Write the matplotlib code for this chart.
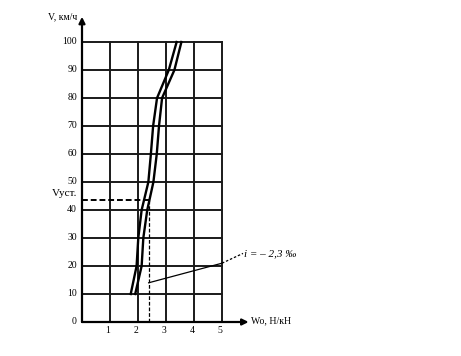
import numpy as np
import matplotlib
matplotlib.use("Agg")
import matplotlib.pyplot as plt

plt.rcParams['font.family'] = ['Liberation Serif', 'DejaVu Serif']

# speed, km/h
v = [10, 20, 30, 40, 50, 60, 70, 80, 90, 100]
# main resistance, N/kN (two curves)
w_left = [1.74, 1.95, 2.01, 2.13, 2.37, 2.46, 2.54, 2.68, 3.1, 3.38]
w_right = [1.9, 2.13, 2.19, 2.33, 2.55, 2.67, 2.75, 2.86, 3.3, 3.55]

x_ticks = [1, 2, 3, 4, 5]
y_ticks = [0, 10, 20, 30, 40, 50, 60, 70, 80, 90, 100]

v_ust = 43.5
w_ust = 2.38
slope_label = "i = – 2,3 ‰"

fig = plt.figure(figsize=(4.61, 3.56), dpi=100)
ax = fig.add_axes([82 / 461, 34 / 356, 140 / 461, 280 / 356])
ax.set_xlim(0, 5)
ax.set_ylim(0, 100)
ax.axis("off")

# grid
for xt in x_ticks:
    ax.plot([xt, xt], [0, 100], color="#1a1a1a", lw=1.4, clip_on=False)
for yt in y_ticks[1:]:
    ax.plot([0, 5], [yt, yt], color="#1a1a1a", lw=1.4, clip_on=False)

# axes with arrows
ax.annotate("", xy=(0, 109), xytext=(0, 0),
            arrowprops=dict(arrowstyle="-|>", color="black", lw=1.6,
                            mutation_scale=9, shrinkA=0, shrinkB=0),
            annotation_clip=False)
ax.annotate("", xy=(5.95, 0), xytext=(0, 0),
            arrowprops=dict(arrowstyle="-|>", color="black", lw=1.6,
                            mutation_scale=9, shrinkA=0, shrinkB=0),
            annotation_clip=False)

# tick labels
for yt in y_ticks:
    ax.text(-0.18, yt, str(yt), ha="right", va="center", fontsize=7)
for xt in x_ticks:
    ax.text(xt - 0.07, -1.5, str(xt), ha="center", va="top", fontsize=7)
ax.text(-0.18, 109, "V, км/ч", ha="right", va="center", fontsize=7)
ax.text(6.05, 0.5, "Wo, Н/кН", ha="left", va="center", fontsize=7)

# curves
ax.plot(w_left, v, color="black", lw=1.7, clip_on=False)
ax.plot(w_right, v, color="black", lw=1.7, clip_on=False)

# steady speed lines
ax.plot([0, w_ust], [v_ust, v_ust], color="black", lw=1.4, ls=(0, (3, 1.5)))
ax.plot([w_ust, w_ust], [0, v_ust], color="black", lw=0.9, ls=(0, (3, 1.5)))
ax.text(-0.18, 46, "Vуст.", ha="right", va="center", fontsize=8)

# slope annotation
ax.plot([w_ust, 5.0], [14, 21], color="black", lw=0.9, clip_on=False)
ax.plot([5.0, 5.75], [21, 24.5], color="black", lw=0.9, ls=(0, (2, 1.5)),
        clip_on=False)
ax.text(5.8, 24.5, slope_label, ha="left", va="center", fontsize=8,
        style="italic")

fig.savefig("out.png", dpi=100)
